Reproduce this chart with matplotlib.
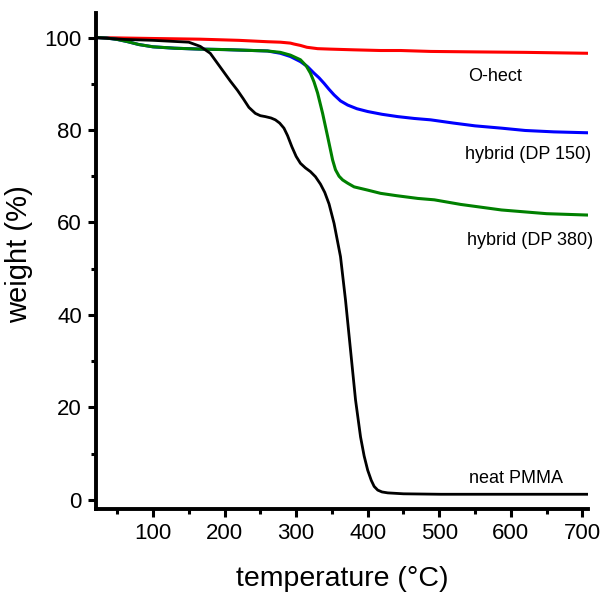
import matplotlib
matplotlib.use("Agg")
import matplotlib.pyplot as plt
from matplotlib.ticker import MultipleLocator

plt.rcParams['font.family'] = ['Liberation Sans', 'DejaVu Sans']

# TGA curves (temperature in °C, weight in %)
ohect_t = [20, 60, 100, 166, 220, 260, 278, 292, 297, 306, 315, 330, 348, 380, 418, 446, 488, 550, 620, 708]
ohect_w = [100, 99.9, 99.8, 99.65, 99.4, 99.1, 99.0, 98.8, 98.6, 98.3, 97.9, 97.6, 97.5, 97.35, 97.2, 97.2, 97.0, 96.9, 96.8, 96.6]

dp150_t = [20, 35, 50, 65, 80, 100, 130, 166, 200, 260, 278, 292, 306, 316, 325, 332, 339, 346, 353, 362, 372, 385, 400, 420, 442, 465, 488, 520, 550, 587, 620, 660, 708]
dp150_w = [100, 99.9, 99.6, 99.1, 98.5, 98.0, 97.7, 97.5, 97.4, 97.1, 96.6, 95.9, 94.8, 93.7, 92.3, 91.3, 90.1, 88.8, 87.6, 86.3, 85.4, 84.6, 84.0, 83.4, 82.9, 82.5, 82.2, 81.5, 80.9, 80.4, 79.9, 79.6, 79.4]

dp380_t = [20, 35, 50, 65, 80, 100, 130, 166, 200, 260, 278, 292, 306, 314, 320, 325, 330, 337, 344, 351, 355, 360, 365, 372, 381, 400, 418, 440, 470, 493, 530, 587, 650, 708]
dp380_w = [100, 99.9, 99.6, 99.1, 98.5, 98.0, 97.7, 97.5, 97.4, 97.1, 96.8, 96.2, 95.2, 93.9, 92.3, 90.4, 88.0, 83.6, 78.6, 73.5, 71.4, 70.0, 69.2, 68.5, 67.7, 67.0, 66.3, 65.8, 65.2, 64.9, 63.9, 62.7, 61.9, 61.6]

pmma_t = [20, 60, 100, 150, 166, 180, 194, 208, 218, 226, 234, 243, 250, 257, 265, 271, 277, 283, 288, 294, 300, 306, 313, 320, 327, 334, 340, 346, 353, 362, 369, 376, 383, 390, 395, 400, 405, 409, 414, 420, 428, 450, 502, 600, 708]
pmma_w = [100, 99.6, 99.4, 99.0, 98.1, 96.6, 93.6, 90.6, 88.6, 86.8, 84.9, 83.6, 83.1, 82.9, 82.6, 82.2, 81.5, 80.4, 78.8, 76.4, 74.3, 72.8, 71.8, 71.0, 69.9, 68.3, 66.5, 64.0, 59.8, 52.6, 43.2, 32.4, 21.6, 13.6, 9.5, 6.4, 4.2, 2.9, 2.1, 1.7, 1.5, 1.3, 1.2, 1.2, 1.2]

curve_labels = ["O-hect", "hybrid (DP 150)", "hybrid (DP 380)", "neat PMMA"]
label_x = [540, 536, 539, 542]
label_y = [91.5, 74.6, 56.2, 4.7]

fig = plt.figure(figsize=(6.02, 5.94), dpi=100)
ax = fig.add_axes([0.159, 0.143, 0.818, 0.835])

ax.plot(ohect_t, ohect_w, color="#ff0000", lw=2.2)
ax.plot(dp150_t, dp150_w, color="#0000ff", lw=2.2)
ax.plot(dp380_t, dp380_w, color="#008000", lw=2.2)
ax.plot(pmma_t, pmma_w, color="black", lw=2.0)

for txt, x, y in zip(curve_labels, label_x, label_y):
    ax.text(x, y, txt, fontsize=13, ha="left", va="center", clip_on=False)

ax.set_xlim(20, 708)
ax.set_ylim(-2, 105.3)

ax.spines["top"].set_visible(False)
ax.spines["right"].set_visible(False)
ax.spines["left"].set_linewidth(2.8)
ax.spines["bottom"].set_linewidth(2.8)

ax.xaxis.set_major_locator(MultipleLocator(100))
ax.xaxis.set_minor_locator(MultipleLocator(50))
ax.yaxis.set_major_locator(MultipleLocator(20))
ax.yaxis.set_minor_locator(MultipleLocator(10))
ax.tick_params(which="major", direction="out", length=6, width=2.2, labelsize=16, pad=4)
ax.tick_params(which="minor", direction="out", length=3.5, width=2.2)

ax.set_xlabel("temperature (°C)", fontsize=20.5, labelpad=16)
ax.set_ylabel("weight (%)", fontsize=21)
ax.yaxis.set_label_coords(-0.127, 0.513)

fig.savefig("out.png", dpi=100)
